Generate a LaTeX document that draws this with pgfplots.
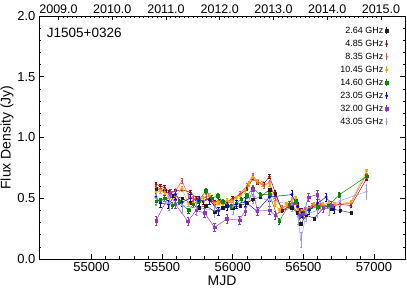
\documentclass[border=0pt]{standalone}
\usepackage{fontspec}
\setmainfont{Liberation Sans}
\usepackage{pgfplots}
\pgfplotsset{compat=1.18}
\definecolor{cBlack}{RGB}{30,30,30}
\definecolor{cDarkred}{RGB}{150,0,0}
\definecolor{cRed}{RGB}{255,70,70}
\definecolor{cOrange}{RGB}{255,165,0}
\definecolor{cGreen}{RGB}{0,140,0}
\definecolor{cBlue}{RGB}{0,0,255}
\definecolor{cPurple}{RGB}{150,50,205}
\definecolor{cLav}{RGB}{150,150,255}
\begin{document}
\begin{tikzpicture}
\begin{axis}[
  at={(0,0)}, anchor=south west,
  scale only axis, width=366pt, height=243pt,
  xmin=54629, xmax=57219, ymin=0, ymax=2,
  xtick={55000,55500,56000,56500,57000},
  minor x tick num=4,
  ytick={0,0.5,1,1.5,2},
  minor y tick num=4,
  yticklabel style={/pgf/number format/.cd,fixed,fixed zerofill,precision=1},
  /pgf/number format/assume math mode=true,
  scaled x ticks=false,
  xticklabel style={/pgf/number format/.cd,set thousands separator={}},
  xtick pos=bottom,
  tick align=inside,
  major tick length=5pt, minor tick length=2.5pt,
  tick style={black, line width=0.5pt},
  axis line style={line width=0.6pt},
  ticklabel style={font=\fontsize{13}{14}\selectfont},
  xlabel={MJD}, ylabel={Flux Density (Jy)},
  label style={font=\fontsize{14}{16}\selectfont},
  xlabel style={yshift=3pt},
  ylabel style={yshift=-3pt},
  legend plot pos=right,
  legend cell align=right,
  legend style={at={(0.962,0.972)}, anchor=north east, draw=none, fill=none,
    font=\fontsize{9}{10}\selectfont, row sep=1.2pt},
  legend image code/.code={%
    \draw[#1,mark=none] (0.2cm,-0.12cm)--(0.2cm,0.12cm);
    \draw[#1,only marks] plot coordinates {(0.2cm,0cm)};},
  every axis plot/.append style={line width=0.45pt, mark size=1.25pt,
    error bars/y dir=both, error bars/error bar style={line width=0.45pt}},
]
\node[anchor=west, font=\fontsize{13.5}{15}\selectfont] at (rel axis cs:0.012,0.93) {J1505+0326};

\addplot[cBlack, mark=square*, error bars/y fixed=0.012] table[row sep=\\]{
x y\\
55457 0.58\\ 55518 0.56\\ 55580 0.52\\ 55641 0.50\\ 55700 0.46\\ 55758 0.42\\ 55810 0.44\\ 55871 0.39\\ 55930 0.42\\ 55959 0.44\\ 56000 0.42\\ 56053 0.44\\ 56100 0.46\\ 56142 0.49\\ 56194 0.51\\ 56260 0.57\\ 56300 0.54\\ 56350 0.40\\ 56418 0.42\\ 56460 0.38\\ 56482 0.29\\ 56520 0.36\\ 56578 0.335\\ 56640 0.42\\ 56700 0.41\\ 56760 0.40\\ 56837 0.38\\
};
\addlegendentry{2.64 GHz}

\addplot[cDarkred, mark=triangle*, error bars/y fixed=0.015] table[row sep=\\]{
x y\\
55457 0.615\\ 55488 0.60\\ 55518 0.59\\ 55550 0.55\\ 55594 0.56\\ 55641 0.57\\ 55700 0.55\\ 55745 0.50\\ 55790 0.47\\ 55836 0.50\\ 55871 0.47\\ 55905 0.48\\ 55959 0.47\\ 56000 0.50\\ 56053 0.53\\ 56100 0.58\\ 56142 0.66\\ 56175 0.63\\ 56220 0.62\\ 56260 0.68\\ 56300 0.55\\ 56350 0.40\\ 56410 0.44\\ 56450 0.48\\ 56475 0.40\\ 56500 0.38\\ 56540 0.42\\ 56600 0.44\\ 56680 0.43\\ 56760 0.45\\ 56837 0.44\\ 56947 0.66\\
};
\addlegendentry{4.85 GHz}

\addplot[cRed, mark=*, mark size=0.8pt, error bars/y fixed=0.02] table[row sep=\\]{
x y\\
55457 0.59\\ 55488 0.58\\ 55518 0.57\\ 55550 0.53\\ 55594 0.56\\ 55641 0.642\\ 55688 0.52\\ 55720 0.50\\ 55758 0.49\\ 55810 0.51\\ 55871 0.44\\ 55905 0.47\\ 55959 0.45\\ 56000 0.49\\ 56053 0.54\\ 56100 0.60\\ 56142 0.69\\ 56175 0.636\\ 56220 0.60\\ 56260 0.63\\ 56300 0.50\\ 56350 0.42\\ 56418 0.46\\ 56450 0.45\\ 56475 0.39\\ 56510 0.41\\ 56560 0.44\\ 56620 0.44\\ 56680 0.44\\ 56760 0.45\\ 56837 0.46\\ 56947 0.70\\
};
\addlegendentry{8.35 GHz}

\addplot[cOrange, mark=*, error bars/y fixed=0.018] table[row sep=\\]{
x y\\
55457 0.55\\ 55488 0.56\\ 55518 0.55\\ 55550 0.50\\ 55594 0.52\\ 55641 0.58\\ 55688 0.45\\ 55720 0.46\\ 55758 0.48\\ 55790 0.50\\ 55836 0.52\\ 55871 0.46\\ 55900 0.47\\ 55930 0.45\\ 55959 0.48\\ 55990 0.47\\ 56025 0.50\\ 56053 0.52\\ 56088 0.56\\ 56115 0.62\\ 56142 0.67\\ 56175 0.64\\ 56210 0.62\\ 56260 0.62\\ 56300 0.45\\ 56330 0.40\\ 56380 0.45\\ 56418 0.48\\ 56445 0.50\\ 56460 0.42\\ 56475 0.38\\ 56490 0.40\\ 56510 0.39\\ 56540 0.42\\ 56575 0.45\\ 56610 0.44\\ 56640 0.45\\ 56680 0.46\\ 56720 0.45\\ 56837 0.47\\ 56947 0.725\\
};
\addlegendentry{10.45 GHz}

\addplot[cGreen, mark=square*, error bars/y fixed=0.022] table[row sep=\\]{
x y\\
55457 0.477\\ 55488 0.48\\ 55518 0.50\\ 55570 0.444\\ 55620 0.47\\ 55688 0.40\\ 55720 0.45\\ 55758 0.48\\ 55810 0.56\\ 55850 0.50\\ 55895 0.52\\ 55930 0.47\\ 55989 0.43\\ 56025 0.46\\ 56060 0.49\\ 56100 0.52\\ 56142 0.58\\ 56194 0.53\\ 56260 0.53\\ 56329 0.31\\ 56400 0.45\\ 56445 0.47\\ 56475 0.36\\ 56500 0.38\\ 56540 0.41\\ 56600 0.43\\ 56680 0.44\\ 56753 0.527\\ 56947 0.68\\
};
\addlegendentry{14.60 GHz}

\addplot[cBlue, mark=*, error bars/y fixed=0.035] table[row sep=\\]{
x y\\
55457 0.51\\ 55488 0.46\\ 55546 0.45\\ 55594 0.53\\ 55641 0.467\\ 55700 0.50\\ 55760 0.48\\ 55836 0.49\\ 55900 0.395\\ 55960 0.44\\ 56025 0.45\\ 56090 0.47\\ 56171 0.395\\ 56260 0.51\\ 56418 0.53\\ 56460 0.43\\ 56490 0.38\\ 56540 0.40\\ 56600 0.46\\ 56661 0.51\\ 56717 0.41\\
};
\addlegendentry{23.05 GHz}

\addplot[cPurple, mark=square*, error bars/y fixed=0.035] table[row sep=\\]{
x y\\
55457 0.315\\ 55558 0.54\\ 55594 0.45\\ 55683 0.31\\ 55740 0.40\\ 55800 0.38\\ 55871 0.26\\ 55959 0.33\\ 56048 0.32\\ 56088 0.395\\ 56142 0.57\\ 56175 0.395\\ 56260 0.40\\ 56300 0.36\\ 56418 0.45\\ 56470 0.36\\ 56500 0.37\\ 56536 0.51\\ 56599 0.53\\ 56640 0.42\\ 56700 0.44\\
};
\addlegendentry{32.00 GHz}

\addplot[cLav, mark=*, mark size=0.8pt, error bars/y fixed=0.06] table[row sep=\\]{
x y\\
55457 0.50\\ 55550 0.46\\ 55641 0.44\\ 55745 0.42\\ 55871 0.40\\ 56000 0.43\\ 56142 0.52\\ 56260 0.48\\ 56418 0.45\\ 56460 0.35\\ 56482 0.16\\ 56520 0.37\\ 56600 0.40\\ 56680 0.42\\ 56760 0.48\\ 56947 0.555\\
};
\addlegendentry{43.05 GHz}
\end{axis}
\begin{axis}[
  at={(0,0)}, anchor=south west,
  scale only axis, width=366pt, height=243pt,
  xmin=54629, xmax=57219, ymin=0, ymax=2,
  axis x line*=top, axis y line=none,
  scaled x ticks=false,
  xtick={54767,55147.3,55527.6,55907.9,56288.2,56668.5,57048.8},
  xticklabels={2009.0,2010.0,2011.0,2012.0,2013.0,2014.0,2015.0},
  minor x tick num=11,
  tick align=inside,
  major tick length=4pt, minor tick length=2pt,
  tick style={black, line width=0.5pt},
  axis line style={line width=0.6pt, -},
  ticklabel style={font=\fontsize{12.5}{13}\selectfont},
  xticklabel style={anchor=south, yshift=-1pt},
]
\addplot[draw=none] coordinates {(55000,1)};
\end{axis}
\pgfresetboundingbox
\path[use as bounding box] (-39pt,-29pt) rectangle (368pt,259pt);
\end{tikzpicture}
\end{document}
